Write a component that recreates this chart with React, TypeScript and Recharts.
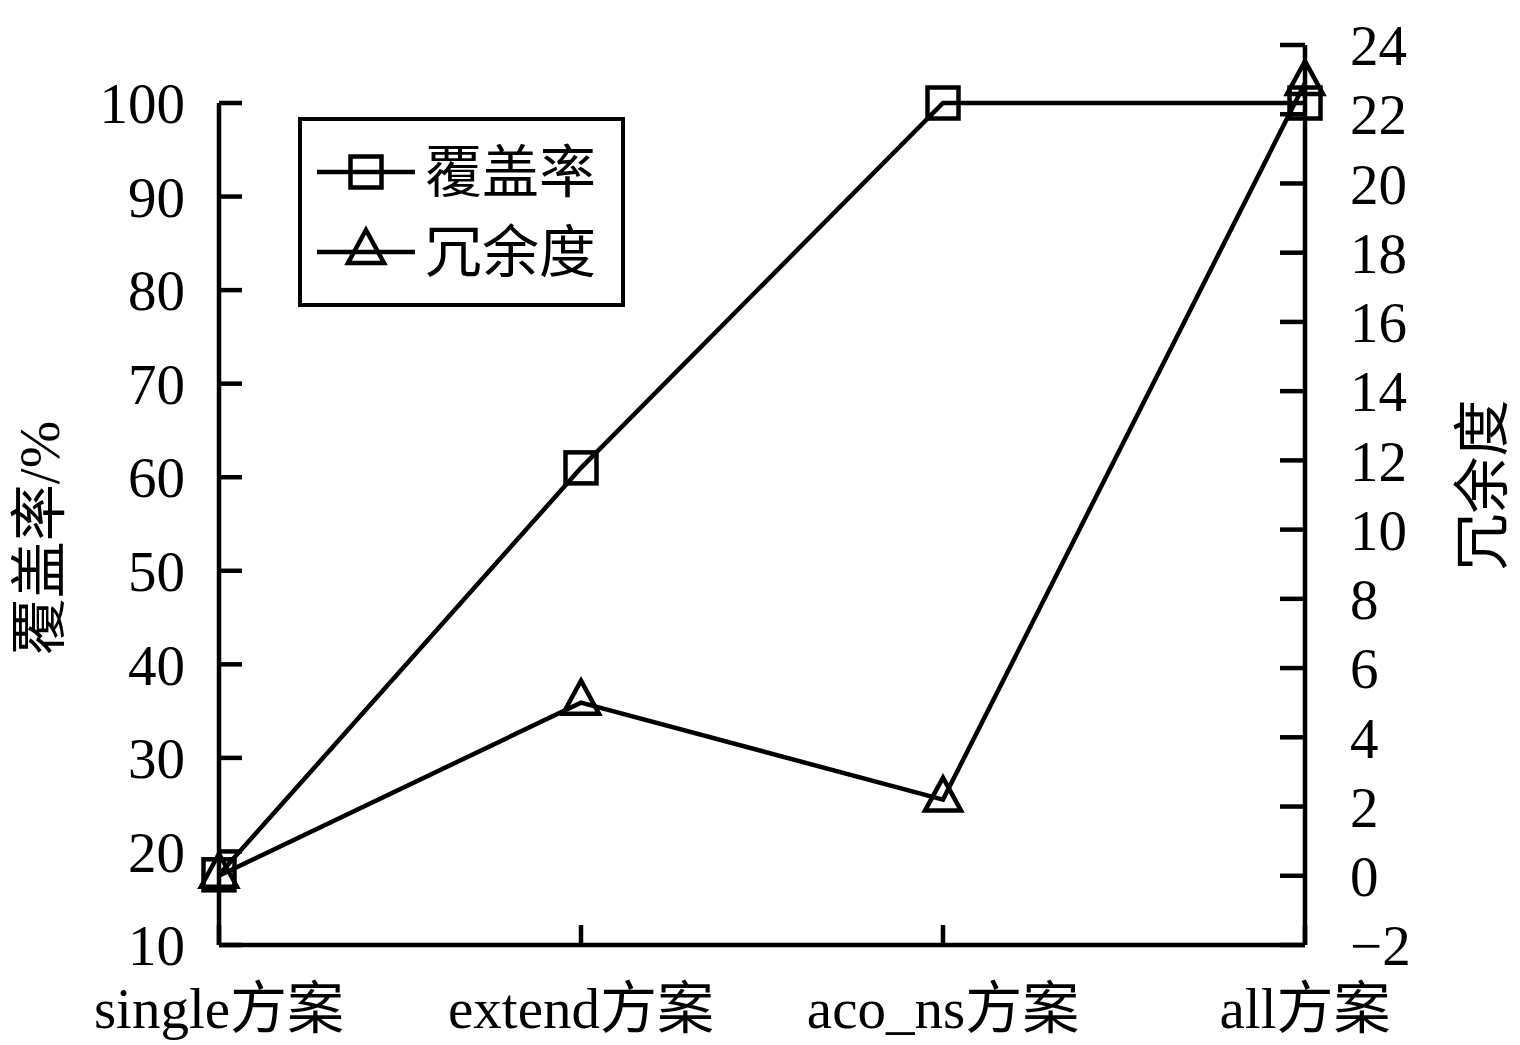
import React from "react";
import { LineChart, Line, XAxis, YAxis, Legend, ReferenceLine } from "recharts";

const schemes = ["single方案", "extend方案", "aco_ns方案", "all方案"];
const coverage = [17.5, 61, 100, 100];
const redundancy = [0, 5.0, 2.2, 22.9];
const coverageTicks = [10, 20, 30, 40, 50, 60, 70, 80, 90, 100];
const redundancyTicks = [-2, 0, 2, 4, 6, 8, 10, 12, 14, 16, 18, 20, 22, 24];
const coverageName = "覆盖率";
const redundancyName = "冗余度";

const data = schemes.map((s, i) => ({
  scheme: s,
  coverage: coverage[i],
  redundancy: redundancy[i],
}));

const FONT = '"Liberation Serif", "Times New Roman", "Noto Sans CJK SC", serif';
const FS = 57;
const SW = 4.5;

const SquareDot = (props: any) => {
  const { cx, cy, index } = props;
  if (cx == null || cy == null) return <g key={`s-${index}`} />;
  return (
    <rect key={`s-${index}`} x={cx - 15.5} y={cy - 15.5} width={31} height={31}
      fill="none" stroke="#000" strokeWidth={SW} />
  );
};

const TriangleDot = (props: any) => {
  const { cx, cy, index } = props;
  if (cx == null || cy == null) return <g key={`t-${index}`} />;
  return (
    <path key={`t-${index}`}
      d={`M${cx},${cy - 22} L${cx + 18},${cy + 11} L${cx - 18},${cy + 11} Z`}
      fill="none" stroke="#000" strokeWidth={SW} strokeLinejoin="miter" />
  );
};

const LegendBox = () => (
  <svg width={327} height={190} style={{ display: "block" }}>
    <rect x={2} y={2} width={323} height={186} fill="#fff" stroke="#000" strokeWidth={4} />
    <line x1={19} x2={117} y1={55} y2={55} stroke="#000" strokeWidth={SW} />
    <rect x={68 - 15.5} y={55 - 15.5} width={31} height={31} fill="none" stroke="#000" strokeWidth={SW} />
    <text x={127} y={55} dominantBaseline="central" fontSize={FS} fontFamily={FONT} fill="#000">{coverageName}</text>
    <line x1={19} x2={117} y1={135} y2={135} stroke="#000" strokeWidth={SW} />
    <path d={`M68,${135 - 22} L86,${135 + 11} L50,${135 + 11} Z`} fill="none" stroke="#000" strokeWidth={SW} />
    <text x={127} y={135} dominantBaseline="central" fontSize={FS} fontFamily={FONT} fill="#000">{redundancyName}</text>
  </svg>
);

const LeftTitle = () => (
  <text x={39} y={538} transform="rotate(-90 39 538)" textAnchor="middle" dominantBaseline="central"
    fontSize={FS} fontFamily={FONT} fill="#000">覆盖率/%</text>
);

const RightTitle = () => (
  <text x={1482} y={485} transform="rotate(-90 1482 485)" textAnchor="middle" dominantBaseline="central"
    fontSize={FS} fontFamily={FONT} fill="#000">冗余度</text>
);

const tickStyle = { fill: "#000", fontSize: FS, fontFamily: FONT };
const minusFormat = (v: number) => String(v).replace("-", "\u2212");

export default function App() {
  return (
    <div style={{ position: "absolute", left: 0, top: 0, background: "#fff" }}>
      <LineChart width={1520} height={1045} data={data} margin={{ top: 45, right: 0, bottom: 0, left: 0 }}>
        <XAxis dataKey="scheme" scale="point" padding={{ left: 0, right: 0 }} interval={0}
          height={100} tickSize={-20} tickMargin={63}
          axisLine={{ stroke: "#000", strokeWidth: SW }}
          tickLine={{ stroke: "#000", strokeWidth: SW }}
          tick={tickStyle} />
        <YAxis yAxisId="left" type="number" domain={[10, 106.2]} ticks={coverageTicks} interval={0}
          allowDataOverflow width={219} axisLine={false} tickSize={-23} tickMargin={57}
          tickLine={{ stroke: "#000", strokeWidth: SW }} tick={tickStyle}
          label={<LeftTitle />} />
        <YAxis yAxisId="right" orientation="right" type="number" domain={[-2, 24]} ticks={redundancyTicks}
          interval={0} allowDataOverflow width={215} tickSize={-25} tickMargin={70}
          tickFormatter={minusFormat}
          axisLine={{ stroke: "#000", strokeWidth: SW }}
          tickLine={{ stroke: "#000", strokeWidth: SW }} tick={tickStyle}
          label={<RightTitle />} />
        <ReferenceLine yAxisId="left"
          segment={[{ x: schemes[0], y: 10 }, { x: schemes[0], y: 100 }]}
          stroke="#000" strokeWidth={SW} ifOverflow="visible" />
        <Line yAxisId="left" dataKey="coverage" name={coverageName} type="linear"
          stroke="#000" strokeWidth={SW} dot={SquareDot} activeDot={false} isAnimationActive={false} />
        <Line yAxisId="right" dataKey="redundancy" name={redundancyName} type="linear"
          stroke="#000" strokeWidth={SW} dot={TriangleDot} activeDot={false} isAnimationActive={false} />
        <Legend content={() => <LegendBox />} layout="horizontal" verticalAlign="middle" align="center"
          wrapperStyle={{ position: "absolute", left: 298, top: 117, width: 327, height: 190 }} />
      </LineChart>
    </div>
  );
}
